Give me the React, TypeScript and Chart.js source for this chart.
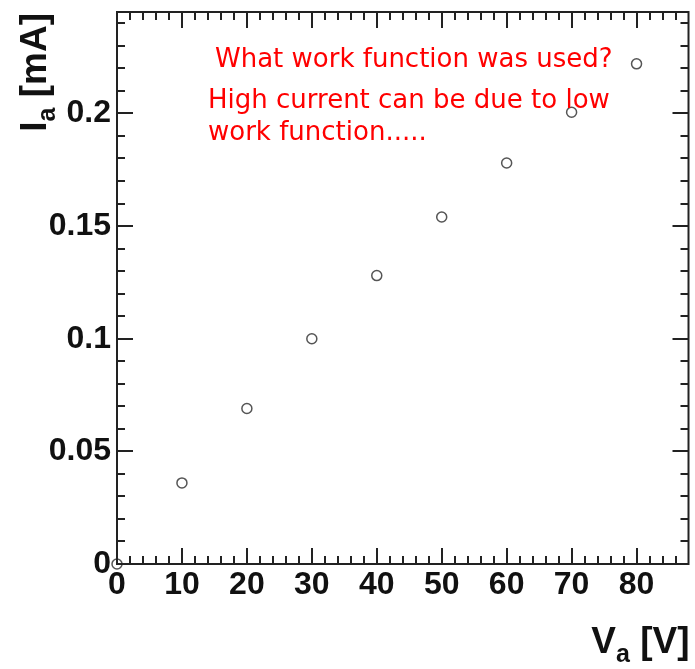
import React, { useEffect, useRef } from "react";
import { Chart, registerables } from "chart.js";

Chart.register(...registerables);

// ---- data ----
const voltages = [0, 10, 20, 30, 40, 50, 60, 70, 80];
const currents = [0, 0.036, 0.069, 0.1, 0.128, 0.154, 0.178, 0.2005, 0.222];

const xTicks = [0, 10, 20, 30, 40, 50, 60, 70, 80];
const xTickLabels = ["0", "10", "20", "30", "40", "50", "60", "70", "80"];
const yTicks = [0, 0.05, 0.1, 0.15, 0.2];
const yTickLabels = ["0", "0.05", "0.1", "0.15", "0.2"];
const xMinorStep = 2;
const yMinorStep = 0.01;
const xRange = [0, 88];
const yRange = [0, 0.245];

const noteLine1 = ["What work function was used?"];
const noteLines2 = ["High current can be due to low", "work function....."];

const AXIS_COLOR = "#222";

const framePlugin = {
  id: "rootFrame",
  afterDatasetsDraw(chart: any) {
    const { ctx, chartArea: a, scales } = chart;
    const xs = scales.x;
    const ys = scales.y;
    ctx.save();
    ctx.strokeStyle = AXIS_COLOR;
    ctx.lineWidth = 2;
    ctx.strokeRect(a.left, a.top, a.right - a.left, a.bottom - a.top);
    const eps = 1e-9;
    for (let v = xRange[0]; v <= xRange[1] + eps; v += xMinorStep) {
      const major = xTicks.some((t) => Math.abs(t - v) < 1e-6);
      const len = major ? 16 : 8;
      const px = Math.round(xs.getPixelForValue(v));
      if (px <= a.left + 1 || px >= a.right - 1) continue;
      ctx.beginPath();
      ctx.moveTo(px, a.bottom);
      ctx.lineTo(px, a.bottom - len);
      ctx.moveTo(px, a.top);
      ctx.lineTo(px, a.top + len);
      ctx.stroke();
    }
    const n = Math.round((yRange[1] - yRange[0]) / yMinorStep);
    for (let i = 0; i <= n; i++) {
      const v = yRange[0] + i * yMinorStep;
      const major = yTicks.some((t) => Math.abs(t - v) < 1e-6);
      const len = major ? 16 : 8;
      const py = Math.round(ys.getPixelForValue(v));
      if (py <= a.top + 1 || py >= a.bottom - 1) continue;
      ctx.beginPath();
      ctx.moveTo(a.left, py);
      ctx.lineTo(a.left + len, py);
      ctx.moveTo(a.right, py);
      ctx.lineTo(a.right - len, py);
      ctx.stroke();
    }
    ctx.restore();
  },
};

function drawSubTitle(ctx: any, main: string, sub: string, rest: string, bigFont: string, smallFont: string, subDrop: number) {
  ctx.font = bigFont;
  const w1 = ctx.measureText(main).width;
  const w3 = ctx.measureText(rest).width;
  ctx.font = smallFont;
  const w2 = ctx.measureText(sub).width;
  return {
    total: w1 + w2 + w3,
    draw(x: number, y: number) {
      ctx.font = bigFont;
      ctx.fillText(main, x, y);
      ctx.font = smallFont;
      ctx.fillText(sub, x + w1, y + subDrop);
      ctx.font = bigFont;
      ctx.fillText(rest, x + w1 + w2, y);
    },
  };
}

const titlesPlugin = {
  id: "rootTitles",
  afterDraw(chart: any) {
    const { ctx, chartArea: a } = chart;
    const big = 'bold 37px "Liberation Sans", Arial, sans-serif';
    const small = 'bold 25px "Liberation Sans", Arial, sans-serif';
    ctx.save();
    ctx.fillStyle = "#111";
    ctx.textAlign = "left";
    ctx.textBaseline = "alphabetic";
    const xt = drawSubTitle(ctx, "V", "a", " [V]", big, small, 9);
    xt.draw(a.right - xt.total + 1, 653);
    ctx.save();
    ctx.translate(46, a.top + 1);
    ctx.rotate(-Math.PI / 2);
    const yt = drawSubTitle(ctx, "I", "a", " [mA]", big, small, 9);
    yt.draw(-yt.total, 0);
    ctx.restore();

    ctx.fillStyle = "#ff0000";
    ctx.font = '26px "DejaVu Sans", sans-serif';
    noteLine1.forEach((t, i) => ctx.fillText(t, 215, 67 + i * 32));
    noteLines2.forEach((t, i) => ctx.fillText(t, 208, 108 + i * 32));
    ctx.restore();
  },
};

export default function App() {
  const ref = useRef<HTMLCanvasElement | null>(null);
  useEffect(() => {
    document.body.style.margin = "0";
    const chart = new Chart(ref.current as HTMLCanvasElement, {
      type: "scatter",
      data: {
        datasets: [
          {
            data: voltages.map((v, i) => ({ x: v, y: currents[i] })),
            pointStyle: "circle",
            pointRadius: 5,
            pointBorderWidth: 1.5,
            pointBorderColor: "#555",
            pointBackgroundColor: "rgba(0,0,0,0)",
            showLine: false,
            clip: false,
          } as any,
        ],
      },
      options: {
        animation: false,
        responsive: true,
        maintainAspectRatio: false,
        layout: { padding: { top: 12, right: 5, left: 0, bottom: 0 } },
        plugins: { legend: { display: false }, tooltip: { enabled: false } },
        scales: {
          x: {
            type: "linear",
            min: xRange[0],
            max: xRange[1],
            grid: { display: false, drawTicks: false },
            border: { display: false },
            afterBuildTicks: (s: any) => {
              s.ticks = xTicks.map((v) => ({ value: v }));
            },
            afterFit: (s: any) => {
              s.height = 105;
              s.paddingLeft = 0;
              s.paddingRight = 0;
              s.paddingTop = 0;
              s.paddingBottom = 0;
            },
            ticks: {
              autoSkip: false,
              maxRotation: 0,
              padding: 2,
              color: "#111",
              font: { family: '"Liberation Sans", Arial, sans-serif', size: 32, weight: "bold" },
              callback: (_v: any, i: number) => xTickLabels[i],
            },
          },
          y: {
            type: "linear",
            min: yRange[0],
            max: yRange[1],
            grid: { display: false, drawTicks: false },
            border: { display: false },
            afterBuildTicks: (s: any) => {
              s.ticks = yTicks.map((v) => ({ value: v }));
            },
            afterFit: (s: any) => {
              s.width = 117;
              s.paddingLeft = 0;
              s.paddingRight = 0;
              s.paddingTop = 0;
              s.paddingBottom = 0;
            },
            ticks: {
              autoSkip: false,
              padding: 6,
              color: "#111",
              font: { family: '"Liberation Sans", Arial, sans-serif', size: 32, weight: "bold" },
              callback: (_v: any, i: number) => yTickLabels[i],
            },
          },
        },
      },
      plugins: [framePlugin, titlesPlugin],
    });
    return () => chart.destroy();
  }, []);
  return (
    <div style={{ position: "absolute", left: 0, top: 0, width: 695, height: 669, background: "#fff" }}>
      <canvas ref={ref} />
    </div>
  );
}
